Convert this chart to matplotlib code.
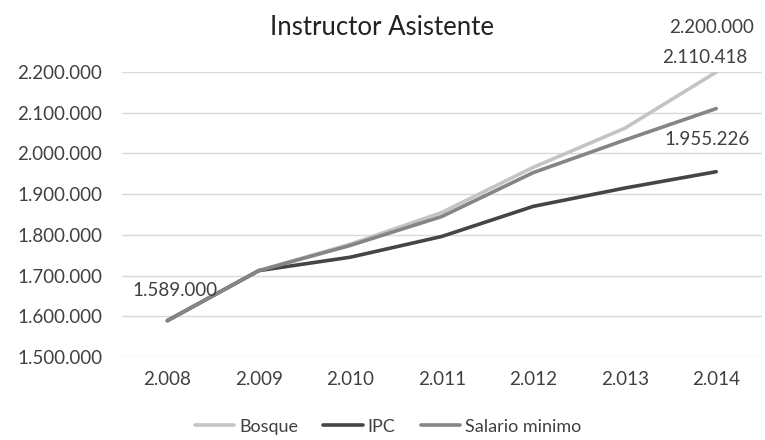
import matplotlib
matplotlib.use('Agg')
from matplotlib import pyplot as plt
from matplotlib.ticker import FuncFormatter

# datos
anios = ['2.008', '2.009', '2.010', '2.011', '2.012', '2.013', '2.014']
bosque = [1589000, 1712000, 1777000, 1855000, 1966000, 2062000, 2200000]
ipc = [1589000, 1712000, 1745000, 1796000, 1870000, 1915000, 1955226]
salario = [1589000, 1712000, 1774000, 1845000, 1953000, 2033000, 2110418]

plt.rcParams['font.family'] = ['Lato', 'DejaVu Sans']

fig = plt.figure(figsize=(7.65, 4.4), dpi=100)
ax = fig.add_axes([0.159, 0.189, 0.837, 0.647])

x = range(len(anios))
ax.plot(x, bosque, color='#c4c4c4', lw=2.6, label='Bosque', solid_capstyle='round')
ax.plot(x, ipc, color='#454545', lw=2.6, label='IPC', solid_capstyle='round')
ax.plot(x, salario, color='#858585', lw=2.6, label='Salario minimo', solid_capstyle='round')

def miles(v, pos=None):
    return f'{int(round(v)):,}'.replace(',', '.')

# etiquetas de datos
lab_kw = dict(textcoords='offset pixels', ha='center', va='center', fontsize=13.5, color='#404040')
ax.annotate(miles(bosque[-1]), (6, bosque[-1]), xytext=(-5, 45), **lab_kw)
ax.annotate(miles(salario[-1]), (6, salario[-1]), xytext=(-11, 51), **lab_kw)
ax.annotate(miles(ipc[-1]), (6, ipc[-1]), xytext=(-9, 32), **lab_kw)
ax.annotate(miles(bosque[0]), (0, bosque[0]), xytext=(8, 30), **lab_kw)

ax.set_xlim(-0.5, 6.5)
ax.set_ylim(1500000, 2200000)
ax.set_yticks(range(1500000, 2200001, 100000))
ax.yaxis.set_major_formatter(FuncFormatter(miles))
ax.set_xticks(list(x))
ax.set_xticklabels(anios)
ax.grid(axis='y', color='#d9d9d9', lw=1)
ax.set_axisbelow(True)
for s in ax.spines.values():
    s.set_visible(False)
ax.tick_params(length=0, labelsize=13.5, colors='#404040')
ax.tick_params(axis='x', pad=10)
ax.tick_params(axis='y', pad=14)

fig.suptitle('Instructor Asistente', y=0.965, fontsize=18.5, color='#222222')
fig.legend(loc='lower center', bbox_to_anchor=(0.507, -0.025), ncol=3, frameon=False,
           fontsize=13, handlelength=2.2, handletextpad=0.25, labelcolor='#404040',
           columnspacing=1.4)

fig.savefig('out.png', dpi=100)
